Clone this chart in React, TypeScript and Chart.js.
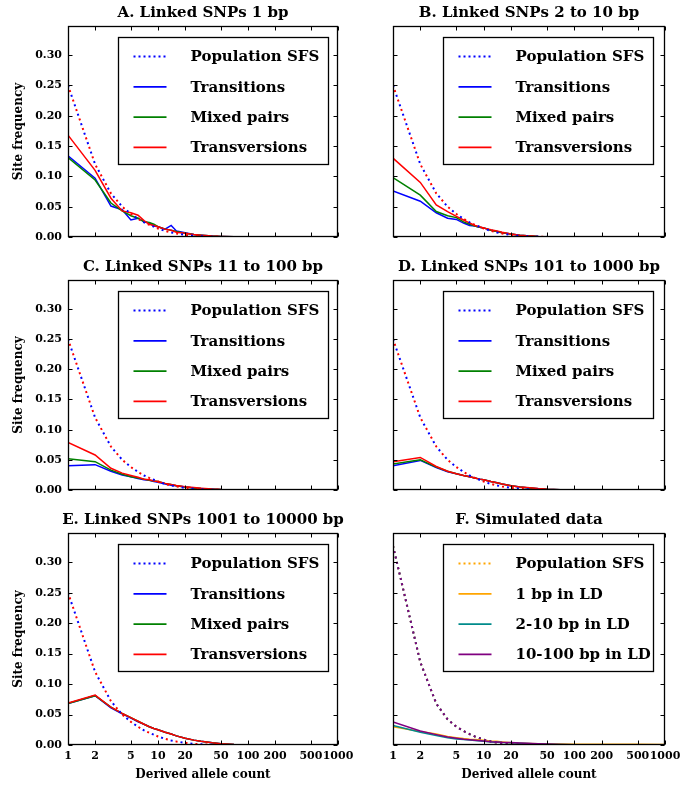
import React, { useEffect, useRef } from "react";
import { Chart, registerables } from "chart.js";
Chart.register(...registerables);

// ---------- data ----------
const counts = [1, 2, 3, 4, 5, 6, 7, 8, 9, 10, 12, 14, 16, 20, 25, 30, 40, 50, 70, 100];
const countsF = [1, 2, 3, 4, 5, 6, 7, 8, 10, 12, 14, 16, 20, 25, 30, 40, 50, 70, 100, 200, 500, 1000];
const xTicks = [1, 2, 5, 10, 20, 50, 100, 200, 500, 1000];
const yTicks = [0, 0.05, 0.1, 0.15, 0.2, 0.25, 0.3];

const popSFS = [0.25, 0.12, 0.072, 0.05, 0.038, 0.03, 0.024, 0.02, 0.017, 0.014, 0.01, 0.0075, 0.0058, 0.0035, 0.002, 0.0012, 0.0005, 0.0002, 0.0001, 0];

const aTransitions = [0.134, 0.097, 0.051, 0.045, 0.028, 0.031, 0.025, 0.023, 0.018, 0.017, 0.013, 0.019, 0.01, 0.007, 0.004, 0.003, 0.0015, 0.001, 0.0005, 0.0002];
const aMixed = [0.131, 0.094, 0.056, 0.043, 0.035, 0.031, 0.025, 0.024, 0.021, 0.017, 0.013, 0.011, 0.009, 0.006, 0.004, 0.003, 0.0015, 0.001, 0.0005, 0.0002];
const aTransversions = [0.168, 0.11, 0.064, 0.043, 0.04, 0.036, 0.027, 0.021, 0.019, 0.017, 0.013, 0.011, 0.008, 0.006, 0.004, 0.003, 0.0015, 0.001, 0.0005, 0.0002];

const bTransitions = [0.076, 0.059, 0.04, 0.031, 0.029, 0.023, 0.019, 0.018, 0.016, 0.015, 0.011, 0.009, 0.007, 0.005, 0.003, 0.002, 0.001, 0.0006, 0.0003, 0.0001];
const bMixed = [0.098, 0.069, 0.042, 0.035, 0.032, 0.025, 0.021, 0.018, 0.016, 0.015, 0.011, 0.009, 0.007, 0.005, 0.003, 0.002, 0.001, 0.0006, 0.0003, 0.0001];
const bTransversions = [0.13, 0.09, 0.053, 0.042, 0.034, 0.028, 0.023, 0.019, 0.017, 0.015, 0.012, 0.01, 0.008, 0.005, 0.003, 0.002, 0.001, 0.0006, 0.0003, 0.0001];

const cTransitions = [0.04, 0.042, 0.031, 0.025, 0.022, 0.019, 0.017, 0.016, 0.014, 0.013, 0.01, 0.008, 0.007, 0.005, 0.0035, 0.0025, 0.0014, 0.0008, 0.0004, 0.0001];
const cMixed = [0.052, 0.047, 0.033, 0.026, 0.022, 0.02, 0.018, 0.016, 0.015, 0.014, 0.011, 0.009, 0.007, 0.005, 0.0035, 0.0025, 0.0014, 0.0008, 0.0004, 0.0001];
const cTransversions = [0.079, 0.058, 0.036, 0.028, 0.024, 0.021, 0.018, 0.017, 0.015, 0.014, 0.011, 0.009, 0.0075, 0.0055, 0.004, 0.003, 0.0015, 0.0008, 0.0004, 0.0001];

const dTransitions = [0.04, 0.049, 0.037, 0.03, 0.027, 0.024, 0.022, 0.02, 0.018, 0.017, 0.014, 0.012, 0.01, 0.007, 0.005, 0.0038, 0.0022, 0.0013, 0.0006, 0.0002];
const dMixed = [0.043, 0.05, 0.038, 0.031, 0.027, 0.024, 0.022, 0.02, 0.018, 0.017, 0.014, 0.012, 0.01, 0.007, 0.005, 0.0038, 0.0022, 0.0013, 0.0006, 0.0002];
const dTransversions = [0.047, 0.054, 0.039, 0.031, 0.027, 0.024, 0.022, 0.02, 0.018, 0.017, 0.014, 0.012, 0.01, 0.007, 0.005, 0.004, 0.0023, 0.0014, 0.0006, 0.0002];

const eTransitions = [0.068, 0.081, 0.061, 0.051, 0.044, 0.038, 0.034, 0.03, 0.027, 0.025, 0.021, 0.018, 0.015, 0.011, 0.008, 0.006, 0.0035, 0.002, 0.0008, 0.0003];
const eMixed = [0.068, 0.081, 0.062, 0.052, 0.045, 0.039, 0.034, 0.03, 0.027, 0.025, 0.021, 0.018, 0.015, 0.011, 0.008, 0.006, 0.0035, 0.002, 0.0008, 0.0003];
const eTransversions = [0.069, 0.082, 0.062, 0.052, 0.045, 0.039, 0.034, 0.03, 0.027, 0.025, 0.021, 0.018, 0.015, 0.011, 0.008, 0.006, 0.0035, 0.002, 0.0008, 0.0003];

const fPopSFS = [0.327, 0.136, 0.068, 0.042, 0.03, 0.023, 0.018, 0.014, 0.009, 0.0058, 0.004, 0.003, 0.0018, 0.001, 0.0006, 0.0003, 0.0001, 0, 0, 0, 0, 0];
const fLD1 = [0.03, 0.022, 0.018, 0.014, 0.012, 0.0105, 0.0095, 0.009, 0.008, 0.0065, 0.006, 0.005, 0.0035, 0.003, 0.0025, 0.002, 0.0018, 0.0015, 0.0013, 0.0012, 0.0011, 0.001];
const fLD2to10 = [0.032, 0.021, 0.0155, 0.012, 0.01, 0.009, 0.008, 0.0073, 0.006, 0.005, 0.0045, 0.004, 0.0035, 0.003, 0.0025, 0.0018, 0.0014, 0.001, 0.0006, 0.0003, 0.0001, 0];
const fLD10to100 = [0.038, 0.023, 0.017, 0.013, 0.011, 0.0095, 0.0085, 0.0078, 0.0066, 0.0055, 0.005, 0.0045, 0.004, 0.0032, 0.0027, 0.002, 0.0015, 0.001, 0.0006, 0.0003, 0.0001, 0];

// ---------- styling ----------
const SERIF = "'DejaVu Serif', serif";
const BLUE = "#0000ff";
const GREEN = "#008000";
const RED = "#ff0000";
const ORANGE = "#ffa500";
const TEAL = "#008b8b";
const PURPLE = "#800080";

type Series = { label: string; x: number[]; y: number[]; color: string; dotted?: boolean; dashOffset?: number };
type LegendItem = { label: string; color: string; dotted: boolean };
type Panel = { title: string; col: number; row: number; series: Series[]; legend: LegendItem[] };

const COLS = [
  { left: 0, width: 354, yAxisW: 68, padR: 16, showY: true, legendRight: 10 },
  { left: 340, width: 340, yAxisW: 53, padR: 15, showY: false, legendRight: 12 },
];
const ROWS = [
  { top: 0, height: 253, padT: 26, xAxisH: 16, showX: false },
  { top: 253, height: 253, padT: 27, xAxisH: 16, showX: false },
  { top: 506, height: 280, padT: 27, xAxisH: 41, showX: true },
];

const snpLegend: LegendItem[] = [
  { label: "Population SFS", color: BLUE, dotted: true },
  { label: "Transitions", color: BLUE, dotted: false },
  { label: "Mixed pairs", color: GREEN, dotted: false },
  { label: "Transversions", color: RED, dotted: false },
];

// series are listed in drawing order (last one ends on top)
function snpSeries(tr: number[], mx: number[], tv: number[]): Series[] {
  return [
    { label: "Transitions", x: counts, y: tr, color: BLUE },
    { label: "Mixed pairs", x: counts, y: mx, color: GREEN },
    { label: "Transversions", x: counts, y: tv, color: RED },
    { label: "Population SFS (transitions)", x: counts, y: popSFS, color: BLUE, dotted: true, dashOffset: 0 },
    { label: "Population SFS (transversions)", x: counts, y: popSFS, color: RED, dotted: true, dashOffset: 5 },
  ];
}

const panels: Panel[] = [
  { title: "A. Linked SNPs 1 bp", col: 0, row: 0, series: snpSeries(aTransitions, aMixed, aTransversions), legend: snpLegend },
  { title: "B. Linked SNPs 2 to 10 bp", col: 1, row: 0, series: snpSeries(bTransitions, bMixed, bTransversions), legend: snpLegend },
  { title: "C. Linked SNPs 11 to 100 bp", col: 0, row: 1, series: snpSeries(cTransitions, cMixed, cTransversions), legend: snpLegend },
  { title: "D. Linked SNPs 101 to 1000 bp", col: 1, row: 1, series: snpSeries(dTransitions, dMixed, dTransversions), legend: snpLegend },
  { title: "E. Linked SNPs 1001 to 10000 bp", col: 0, row: 2, series: snpSeries(eTransitions, eMixed, eTransversions), legend: snpLegend },
  {
    title: "F. Simulated data",
    col: 1,
    row: 2,
    series: [
      { label: "Population SFS (1 bp)", x: countsF, y: fPopSFS, color: ORANGE, dotted: true, dashOffset: 0 },
      { label: "1 bp in LD", x: countsF, y: fLD1, color: ORANGE },
      { label: "Population SFS (2-10 bp)", x: countsF, y: fPopSFS, color: TEAL, dotted: true, dashOffset: 0 },
      { label: "2-10 bp in LD", x: countsF, y: fLD2to10, color: TEAL },
      { label: "Population SFS (10-100 bp)", x: countsF, y: fPopSFS, color: PURPLE, dotted: true, dashOffset: 0 },
      { label: "10-100 bp in LD", x: countsF, y: fLD10to100, color: PURPLE },
    ],
    legend: [
      { label: "Population SFS", color: ORANGE, dotted: true },
      { label: "1 bp in LD", color: ORANGE, dotted: false },
      { label: "2-10 bp in LD", color: TEAL, dotted: false },
      { label: "10-100 bp in LD", color: PURPLE, dotted: false },
    ],
  },
];

function makeDecor(panel: Panel, legendRight: number) {
  return {
    id: "decor",
    afterDraw(chart: any) {
      const ctx: CanvasRenderingContext2D = chart.ctx;
      const a = chart.chartArea;
      const xs = chart.scales.x;
      const ys = chart.scales.y;
      const L = Math.round(a.left) + 0.5;
      const R = Math.round(a.right) - 0.5;
      const T = Math.round(a.top) + 0.5;
      const B = Math.round(a.bottom) - 0.5;
      ctx.save();
      // ticks (inward, all four sides)
      ctx.strokeStyle = "#000";
      ctx.lineWidth = 1;
      ctx.beginPath();
      for (const v of xTicks) {
        const px = Math.round(xs.getPixelForValue(v)) + 0.5;
        ctx.moveTo(px, B);
        ctx.lineTo(px, B - 4);
        ctx.moveTo(px, T);
        ctx.lineTo(px, T + 4);
      }
      for (const v of yTicks) {
        const py = Math.round(ys.getPixelForValue(v)) + 0.5;
        ctx.moveTo(L, py);
        ctx.lineTo(L + 4, py);
        ctx.moveTo(R, py);
        ctx.lineTo(R - 4, py);
      }
      ctx.stroke();
      // frame
      ctx.lineWidth = 1.3;
      ctx.strokeRect(L, T, R - L, B - T);
      // title
      ctx.fillStyle = "#000";
      ctx.font = `bold 15px ${SERIF}`;
      ctx.textAlign = "center";
      ctx.textBaseline = "middle";
      ctx.fillText(panel.title, (a.left + a.right) / 2, a.top - 13);
      // legend
      const lw = 210;
      const lh = 127;
      const lx = Math.round(a.right - legendRight - lw) + 0.5;
      const ly = Math.round(a.top + 11) + 0.5;
      ctx.fillStyle = "#fff";
      ctx.fillRect(lx, ly, lw, lh);
      ctx.strokeStyle = "#000";
      ctx.lineWidth = 1.3;
      ctx.strokeRect(lx, ly, lw, lh);
      ctx.font = `bold 15px ${SERIF}`;
      ctx.textAlign = "left";
      ctx.textBaseline = "middle";
      panel.legend.forEach((it, i) => {
        const cy = ly + 19 + i * 30.3;
        ctx.beginPath();
        ctx.strokeStyle = it.color;
        ctx.lineWidth = 1.8;
        ctx.setLineDash(it.dotted ? [2, 3] : []);
        ctx.moveTo(lx + 15, cy);
        ctx.lineTo(lx + 48, cy);
        ctx.stroke();
        ctx.setLineDash([]);
        ctx.fillStyle = "#000";
        ctx.fillText(it.label, lx + 72, cy + 1);
      });
      ctx.restore();
    },
  };
}

function PanelChart({ panel }: { panel: Panel }) {
  const ref = useRef<HTMLCanvasElement | null>(null);
  const col = COLS[panel.col];
  const row = ROWS[panel.row];
  useEffect(() => {
    if (!ref.current) return;
    const tickFont = { family: SERIF, size: 11, weight: "bold" as const };
    const titleFont = { family: SERIF, size: 12, weight: "bold" as const };
    const isF = panel.col === 1 && panel.row === 2;
    // Chart.js draws dataset 0 on top, so reverse the drawing-order list
    const ordered = [...panel.series].reverse();
    const chart = new Chart(ref.current, {
      type: "line",
      data: {
        datasets: ordered.map((s) => ({
          label: s.label,
          data: s.x.map((xv, i) => ({ x: xv, y: s.y[i] })),
          borderColor: s.color,
          backgroundColor: s.color,
          borderWidth: s.dotted ? 2 : 1.5,
          borderDash: s.dotted ? (isF ? [2, 3.5] : [2, 8]) : [],
          borderDashOffset: s.dashOffset || 0,
          pointRadius: 0,
          tension: 0,
          fill: false,
        })),
      },
      options: {
        animation: false,
        responsive: false,
        maintainAspectRatio: false,
        events: [],
        layout: { padding: { left: 0, right: col.padR, top: row.padT, bottom: 0 } },
        plugins: { legend: { display: false }, title: { display: false }, tooltip: { enabled: false } },
        scales: {
          x: {
            type: "logarithmic",
            min: 1,
            max: 1000,
            grid: { display: false, drawTicks: false },
            border: { display: false },
            afterBuildTicks: (s: any) => {
              s.ticks = xTicks.map((v) => ({ value: v }));
            },
            afterFit: (s: any) => {
              s.height = row.xAxisH;
              s.paddingLeft = 0;
              s.paddingRight = 0;
            },
            ticks: {
              display: row.showX,
              autoSkip: false,
              maxRotation: 0,
              minRotation: 0,
              padding: 5,
              color: "#000",
              font: tickFont,
              callback: (v: any) => String(v),
            },
            title: {
              display: row.showX,
              text: "Derived allele count",
              color: "#000",
              font: titleFont,
              padding: { top: 0, bottom: 4 },
            },
          },
          y: {
            type: "linear",
            min: 0,
            max: 0.348,
            grid: { display: false, drawTicks: false },
            border: { display: false },
            afterBuildTicks: (s: any) => {
              s.ticks = yTicks.map((v) => ({ value: v }));
            },
            afterFit: (s: any) => {
              s.width = col.yAxisW;
              s.paddingTop = 0;
              s.paddingBottom = 0;
            },
            ticks: {
              display: col.showY,
              padding: 6,
              color: "#000",
              font: tickFont,
              callback: (v: any) => Number(v).toFixed(2),
            },
            title: {
              display: col.showY,
              text: "Site frequency",
              color: "#000",
              font: titleFont,
              padding: { top: 12, bottom: 0 },
            },
          },
        },
      },
      plugins: [makeDecor(panel, col.legendRight)],
    } as any);
    return () => chart.destroy();
  }, [panel]);
  return (
    <canvas
      ref={ref}
      width={col.width}
      height={row.height}
      style={{ position: "absolute", left: col.left, top: row.top, width: col.width, height: row.height }}
    />
  );
}

export default function App() {
  return (
    <div style={{ position: "absolute", left: 0, top: 0, width: 680, height: 786, background: "#fff" }}>
      {panels.map((p) => (
        <PanelChart key={p.title} panel={p} />
      ))}
    </div>
  );
}
